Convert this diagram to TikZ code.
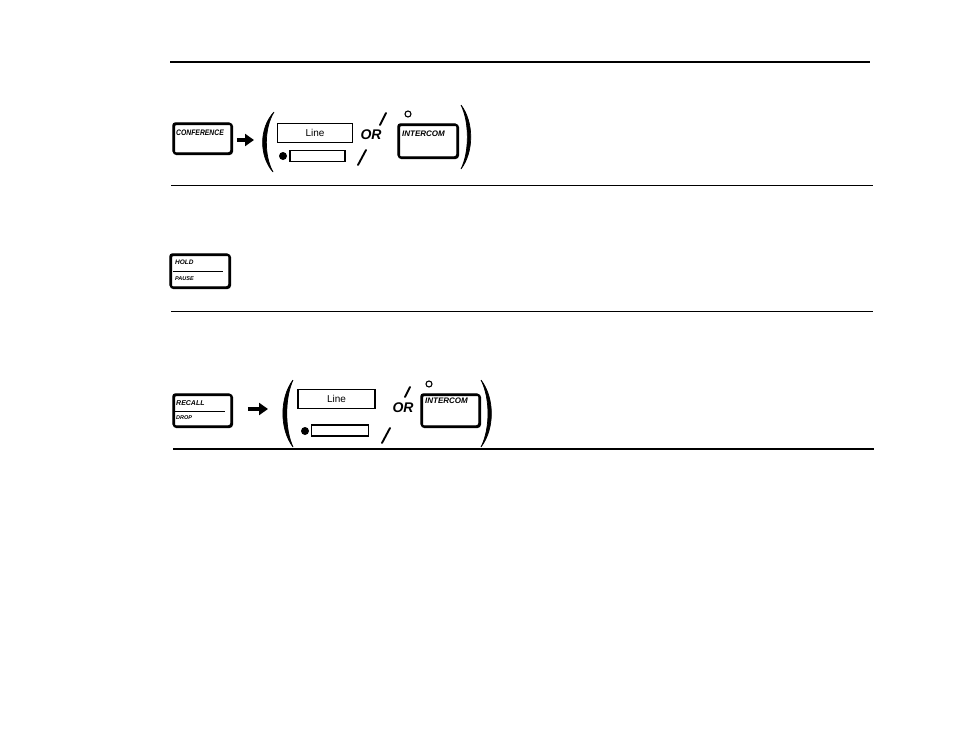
\documentclass[tikz,border=0pt]{standalone}
\usepackage{fontspec}
\setmainfont{Liberation Sans}
\usetikzlibrary{arrows.meta, positioning, calc}

\begin{document}
\begin{tikzpicture}[
        x=1pt,
        y=-1pt,
        key/.style={draw,line width=1.5pt,rounded corners=2.5pt,inner sep=0pt,
            preaction={draw,line width=2.2pt,rounded corners=2.5pt,
                transform canvas={xshift=0.9pt,yshift=-0.9pt}}},
        keytext/.style={inner sep=0pt,anchor=west,font=\fontsize{8}{8}\selectfont\bfseries\itshape},
        smalltext/.style={inner sep=0pt,anchor=west,font=\fontsize{5.5}{6}\selectfont\bfseries\itshape},
        linekey/.style={draw,line width=1.2pt,inner sep=0pt,minimum width=75pt,minimum height=19pt,
            font=\fontsize{10}{10}\selectfont},
        lamprect/.style={draw,line width=1.2pt,inner sep=0pt,minimum width=55pt,minimum height=11pt},
        ortext/.style={inner sep=0pt,font=\fontsize{14}{14}\selectfont\bfseries\itshape},
        slash/.style={line width=1.9pt,line cap=round},
        push/.style={-{Triangle[length=9pt,width=12pt]},line width=3.2pt},
        paren/.style={fill=black,draw=black,line width=0.7pt}
    ]
        \useasboundingbox (0,0) rectangle (954,739);
        \fill[white] (0,0) rectangle (954,739);

        % rules between the rows
        \draw[line width=2pt] (170,62) -- (870,62);
        \draw[line width=1.7pt] (171,185.5) -- (873,185.5);
        \draw[line width=1pt] (171,311) -- (873,311);
        \draw[line width=1.2pt] (173,449) -- (874,449);

        % first row: conference
        \node[key,minimum width=58pt,minimum height=30pt] (conf) at (202,138) {};
        \node[keytext] at (176,133) {\scalebox{0.85}[1]{CONFERENCE}};
        \coordinate (tip1) at (254,140);
        \draw[push] (conf.east |- tip1) ++(5,0) -- (tip1);
        \fill[paren] (274,112) .. controls (259,128) and (259,156) .. (273,172)
            .. controls (264,156) and (264,128) .. (274,112);
        \node[linekey] (line1) at (315,133) {Line};
        \node[lamprect] (lamp1) at (317.5,156) {};
        \fill (283,156) circle (4);
        \draw[slash] (358,165) -- (366,150);
        \node[ortext] (or1) at (371,135) {OR};
        \draw[slash] (380,125) -- (386,113);
        \draw[line width=1.1pt] (408,114) circle (3);
        \node[key,minimum width=59pt,minimum height=33pt] (icom1) at (427.5,140.5) {};
        \node[keytext] at (402,134) {INTERCOM};
        \fill[paren] (461,105) .. controls (474,122) and (474,152) .. (461,169)
            .. controls (469.5,152) and (469.5,122) .. (461,105);

        % second row: hold
        \node[key,minimum width=59pt,minimum height=33pt] (hold) at (199.5,270.5) {};
        \node[keytext,font=\fontsize{6.5}{7}\selectfont\bfseries\itshape] at (175,262) {HOLD};
        \draw[line width=1pt] (173,271) -- (223,271);
        \node[smalltext] at (175,279) {PAUSE};

        % third row: recall
        \node[key,minimum width=58pt,minimum height=32pt] (recall) at (202,410) {};
        \node[keytext,font=\fontsize{7}{7}\selectfont\bfseries\itshape] at (176,403) {RECALL};
        \draw[line width=1pt] (175,411) -- (225,411);
        \node[smalltext] at (176,418) {DROP};
        \coordinate (tip3) at (268,409);
        \draw[push] (recall.east |- tip3) ++(16,0) -- (tip3);
        \fill[paren] (293,380) .. controls (279.5,398) and (279.5,429) .. (293,447)
            .. controls (284.7,429) and (284.7,398) .. (293,380);
        \node[linekey,minimum width=77pt] (line3) at (336.5,399) {Line};
        \node[lamprect,minimum width=57pt] (lamp3) at (340,430.5) {};
        \fill (305,431) circle (4);
        \draw[slash] (382,443) -- (390,428);
        \node[ortext] (or3) at (403,408) {OR};
        \draw[slash] (405,397) -- (410,387);
        \draw[line width=1.1pt] (429,384) circle (3);
        \node[key,minimum width=58pt,minimum height=32pt] (icom3) at (450,410) {};
        \node[keytext] at (425,401) {INTERCOM};
        \fill[paren] (481,380) .. controls (494.8,398) and (494.8,429) .. (481,447)
            .. controls (490.3,429) and (490.3,398) .. (481,380);
    \end{tikzpicture}
\end{document}
